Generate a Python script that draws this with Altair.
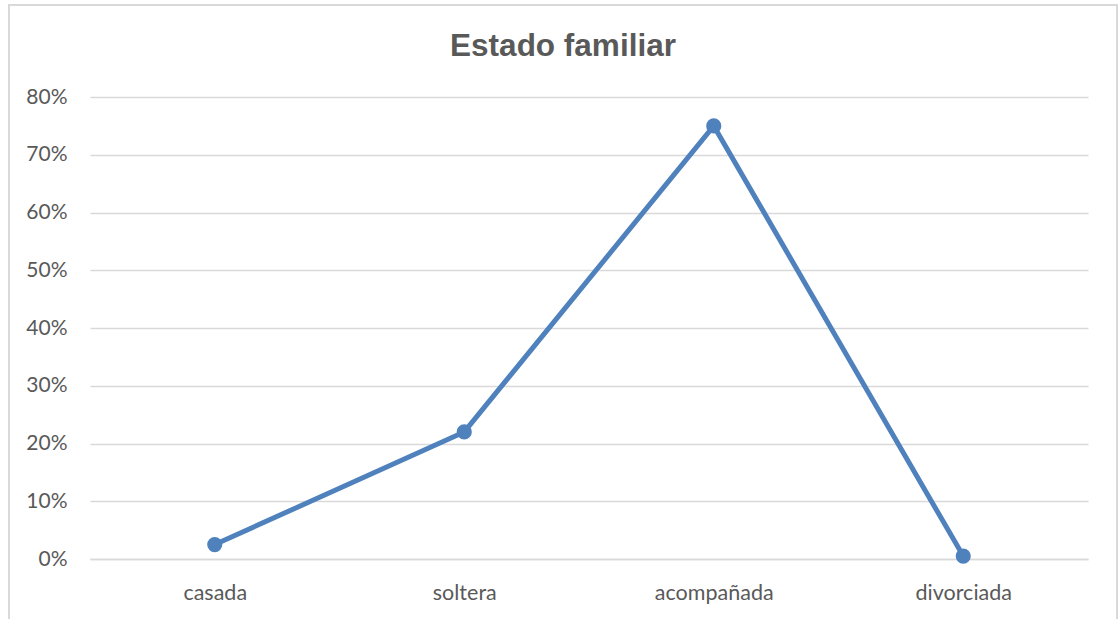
import altair as alt
import pandas as pd

# Marital status shares
categories = ["casada", "soltera", "acompañada", "divorciada"]
shares = [0.025, 0.22, 0.75, 0.005]
title_text = "Estado familiar"

df = pd.DataFrame({"estado": categories, "porcentaje": shares})

LINE_BLUE = "#4F81BD"
GRAY_TEXT = "#595959"
GRID = "#D9D9D9"
FONT = "Lato"

x_enc = alt.X(
    "estado:N",
    sort=categories,
    scale=alt.Scale(paddingInner=0, paddingOuter=0),
    axis=alt.Axis(
        title=None,
        labelAngle=0,
        labelFontSize=21.5,
        labelColor=GRAY_TEXT,
        labelFont=FONT,
        labelBaseline="alphabetic",
        labelPadding=40,
        ticks=False,
        tickSize=0,
        domainColor=GRID,
        domainWidth=1.5,
        grid=False,
    ),
)
y_enc = alt.Y(
    "porcentaje:Q",
    scale=alt.Scale(domain=[0, 0.8], nice=False),
    axis=alt.Axis(
        title=None,
        format=".0%",
        values=[0, 0.1, 0.2, 0.3, 0.4, 0.5, 0.6, 0.7, 0.8],
        labelFontSize=21,
        labelColor=GRAY_TEXT,
        labelFont=FONT,
        labelPadding=23,
        ticks=False,
        tickSize=0,
        domain=False,
        grid=True,
        gridColor=GRID,
        gridWidth=1.5,
    ),
)

line = alt.Chart(df).mark_line(color=LINE_BLUE, strokeWidth=5).encode(x=x_enc, y=y_enc)
points = alt.Chart(df).mark_point(
    filled=True, shape="circle", size=230, color=LINE_BLUE, opacity=1
).encode(x=x_enc, y=y_enc)

# outer chart frame
frame = alt.Chart(df).mark_rect(
    fill=None, stroke=GRID, strokeWidth=2
).encode(
    x=alt.value(-81), x2=alt.value(1027), y=alt.value(-92), y2=alt.value(535)
)

# chart heading
heading = alt.Chart(pd.DataFrame({"t": [title_text]})).mark_text(
    font="Liberation Sans",
    fontSize=31.5,
    fontWeight="bold",
    color=GRAY_TEXT,
    align="center",
    baseline="alphabetic",
).encode(text="t:N", x=alt.value(473), y=alt.value(-41))

chart = (
    alt.layer(frame, line, points, heading)
    .properties(
        width=998,
        height=462,
        autosize=alt.AutoSizeParams(type="none"),
        padding={"left": 90, "top": 97, "right": 32, "bottom": 60},
        view=alt.ViewBackground(stroke="transparent", strokeWidth=0, strokeOpacity=0),
    )
    .configure_view(stroke="transparent", strokeWidth=0)
    .configure_axisX(grid=False)
    .configure_axisBand(grid=False)
    .configure(background="white")
)

chart.save("out.html", embed_options={"renderer": "svg", "actions": False})
